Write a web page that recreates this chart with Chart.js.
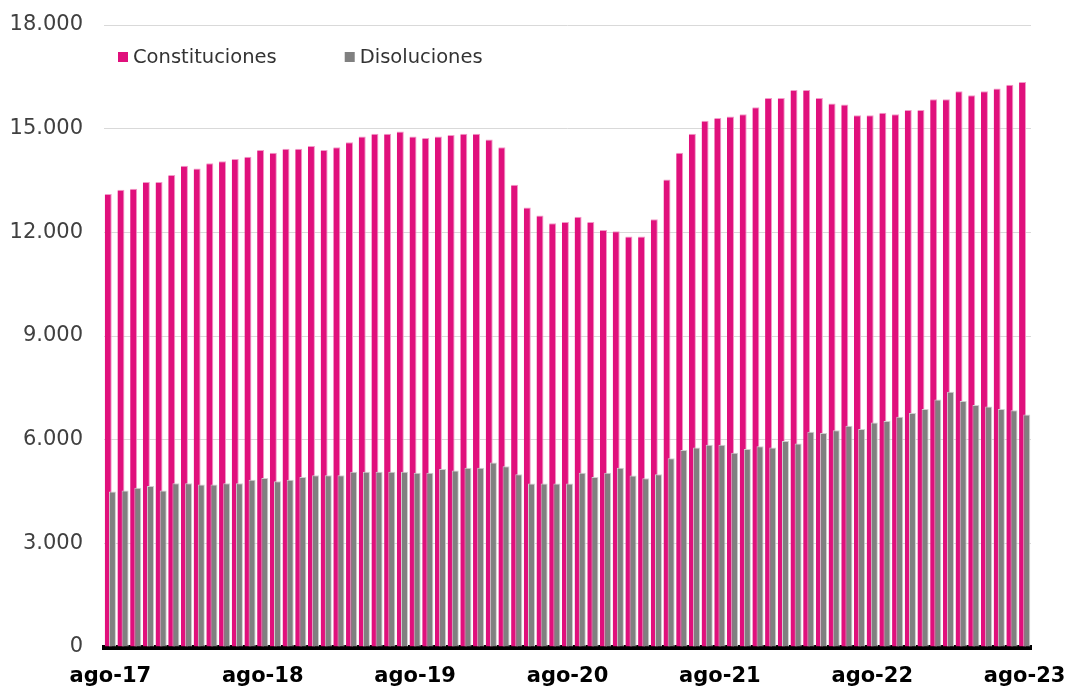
<!DOCTYPE html>
<html lang="es">
<head>
<meta charset="utf-8">
<title>Constituciones y disoluciones de sociedades</title>
<script src="https://cdn.jsdelivr.net/npm/chart.js@4.4.0/dist/chart.umd.min.js"></script>
<style>
  html, body { margin: 0; padding: 0; background: #fff; }
  #wrap { width: 1067px; height: 688px; position: relative; }
</style>
</head>
<body>
<div id="wrap"><canvas id="grafico"></canvas></div>
<script>
// meses desde ago-17 hasta ago-23
const meses = ['ene', 'feb', 'mar', 'abr', 'may', 'jun', 'jul', 'ago', 'sep', 'oct', 'nov', 'dic'];
const etiquetas = [];
for (let i = 0; i < 73; i++) {
    const m = (7 + i) % 12;
    const a = 17 + Math.floor((7 + i) / 12);
    etiquetas.push(meses[m] + '-' + a);
}

const constituciones = [
    13110, 13230, 13260, 13460, 13460, 13660, 13930, 13850, 14000, 14060,
    14120, 14190, 14380, 14300, 14420, 14420, 14500, 14380, 14460, 14610,
    14770, 14850, 14850, 14920, 14770, 14730, 14770, 14820, 14850, 14850,
    14690, 14460, 13380, 12720, 12490, 12260, 12300, 12450, 12300, 12070,
    12030, 11880, 11880, 12380, 13530, 14300, 14850, 15230, 15310, 15350,
    15420, 15620, 15890, 15890, 16120, 16120, 15890, 15730, 15700, 15390,
    15390, 15460, 15420, 15540, 15540, 15850, 15850, 16080, 15970, 16080,
    16160, 16270, 16350
];

const disoluciones = [
    4500, 4530, 4610, 4660, 4530, 4740, 4740, 4700, 4700, 4740,
    4740, 4840, 4890, 4800, 4840, 4920, 4970, 4970, 4970, 5070,
    5070, 5070, 5070, 5070, 5040, 5040, 5150, 5110, 5190, 5190,
    5340, 5230, 5000, 4730, 4730, 4730, 4730, 5040, 4920, 5040,
    5190, 4960, 4880, 5000, 5460, 5700, 5770, 5850, 5850, 5620,
    5730, 5810, 5770, 5960, 5890, 6230, 6190, 6270, 6400, 6310,
    6500, 6540, 6660, 6770, 6890, 7160, 7390, 7120, 7000, 6960,
    6890, 6850, 6730
];

const ticksY = [0, 3000, 6000, 9000, 12000, 15000, 18000];

const ROSA = '#e0107c';
const GRIS = '#808080';

function formatoMiles(v) {
    return String(v).replace(/\B(?=(\d{3})+(?!\d))/g, '.');
}

// las barras grises van encima de las rosas (Chart.js dibuja al reves por defecto)
const ordenPlugin = {
    id: 'ordenBarras',
    beforeDatasetsDraw(chart) {
        chart.getSortedVisibleDatasetMetas().forEach(meta => meta.controller.draw());
        return false;
    }
};

// leyenda dentro del area del grafico
const leyendaPlugin = {
    id: 'leyenda',
    afterDraw(chart) {
        const ctx = chart.ctx;
        const area = chart.chartArea;
        ctx.save();
        ctx.font = '19.5px "DejaVu Sans"';
        ctx.textBaseline = 'middle';
        let x = area.left + 14;
        const y = area.top + 32;
        chart.data.datasets.forEach(ds => {
            ctx.fillStyle = ds.backgroundColor;
            ctx.fillRect(x, y - 5, 10, 10);
            ctx.fillStyle = '#333333';
            ctx.fillText(ds.label, x + 15, y + 1);
            x += 15 + ctx.measureText(ds.label).width + 68;
        });
        ctx.restore();
    }
};

const ctx = document.getElementById('grafico').getContext('2d');
new Chart(ctx, {
    type: 'bar',
    data: {
        labels: etiquetas,
        datasets: [
            {
                label: 'Constituciones',
                data: constituciones,
                backgroundColor: ROSA,
                borderColor: '#f29ac8',
                borderWidth: { top: 1, right: 1, left: 0, bottom: 0 },
                categoryPercentage: 0.66,
                barPercentage: 1.67
            },
            {
                label: 'Disoluciones',
                data: disoluciones,
                backgroundColor: GRIS,
                borderColor: '#cfcfcf',
                borderWidth: { top: 1, right: 1, left: 1, bottom: 0 },
                categoryPercentage: 0.66,
                barPercentage: 1.67
            }
        ]
    },
    options: {
        responsive: true,
        maintainAspectRatio: false,
        animation: false,
        layout: {
            padding: { top: 25, left: 0, right: 0, bottom: 0 }
        },
        plugins: {
            legend: { display: false },
            tooltip: { enabled: false }
        },
        scales: {
            x: {
                grid: { display: false, drawTicks: false },
                border: { display: true, color: '#000000', width: 5 },
                afterFit: function(scale) {
                    scale.height = 41;
                    scale.paddingLeft = 0;
                    scale.paddingRight = 36;
                },
                ticks: {
                    autoSkip: false,
                    maxRotation: 0,
                    minRotation: 0,
                    padding: 17,
                    color: '#000000',
                    font: { family: 'DejaVu Sans', size: 21, weight: 'bold' },
                    callback: function(v, i) {
                        return i % 12 === 0 ? etiquetas[i] : '';
                    }
                }
            },
            y: {
                min: 0,
                max: 18000,
                afterBuildTicks: function(scale) {
                    scale.ticks = ticksY.map(v => ({ value: v }));
                },
                afterFit: function(scale) {
                    scale.width = 104;
                    scale.paddingTop = 0;
                    scale.paddingBottom = 0;
                },
                grid: { color: '#d9d9d9', lineWidth: 1, drawTicks: false },
                border: { display: false },
                ticks: {
                    padding: 21,
                    color: '#404040',
                    font: { family: 'DejaVu Sans', size: 21 },
                    callback: function(v) { return formatoMiles(v); }
                }
            }
        }
    },
    plugins: [ordenPlugin, leyendaPlugin]
});
</script>
</body>
</html>
